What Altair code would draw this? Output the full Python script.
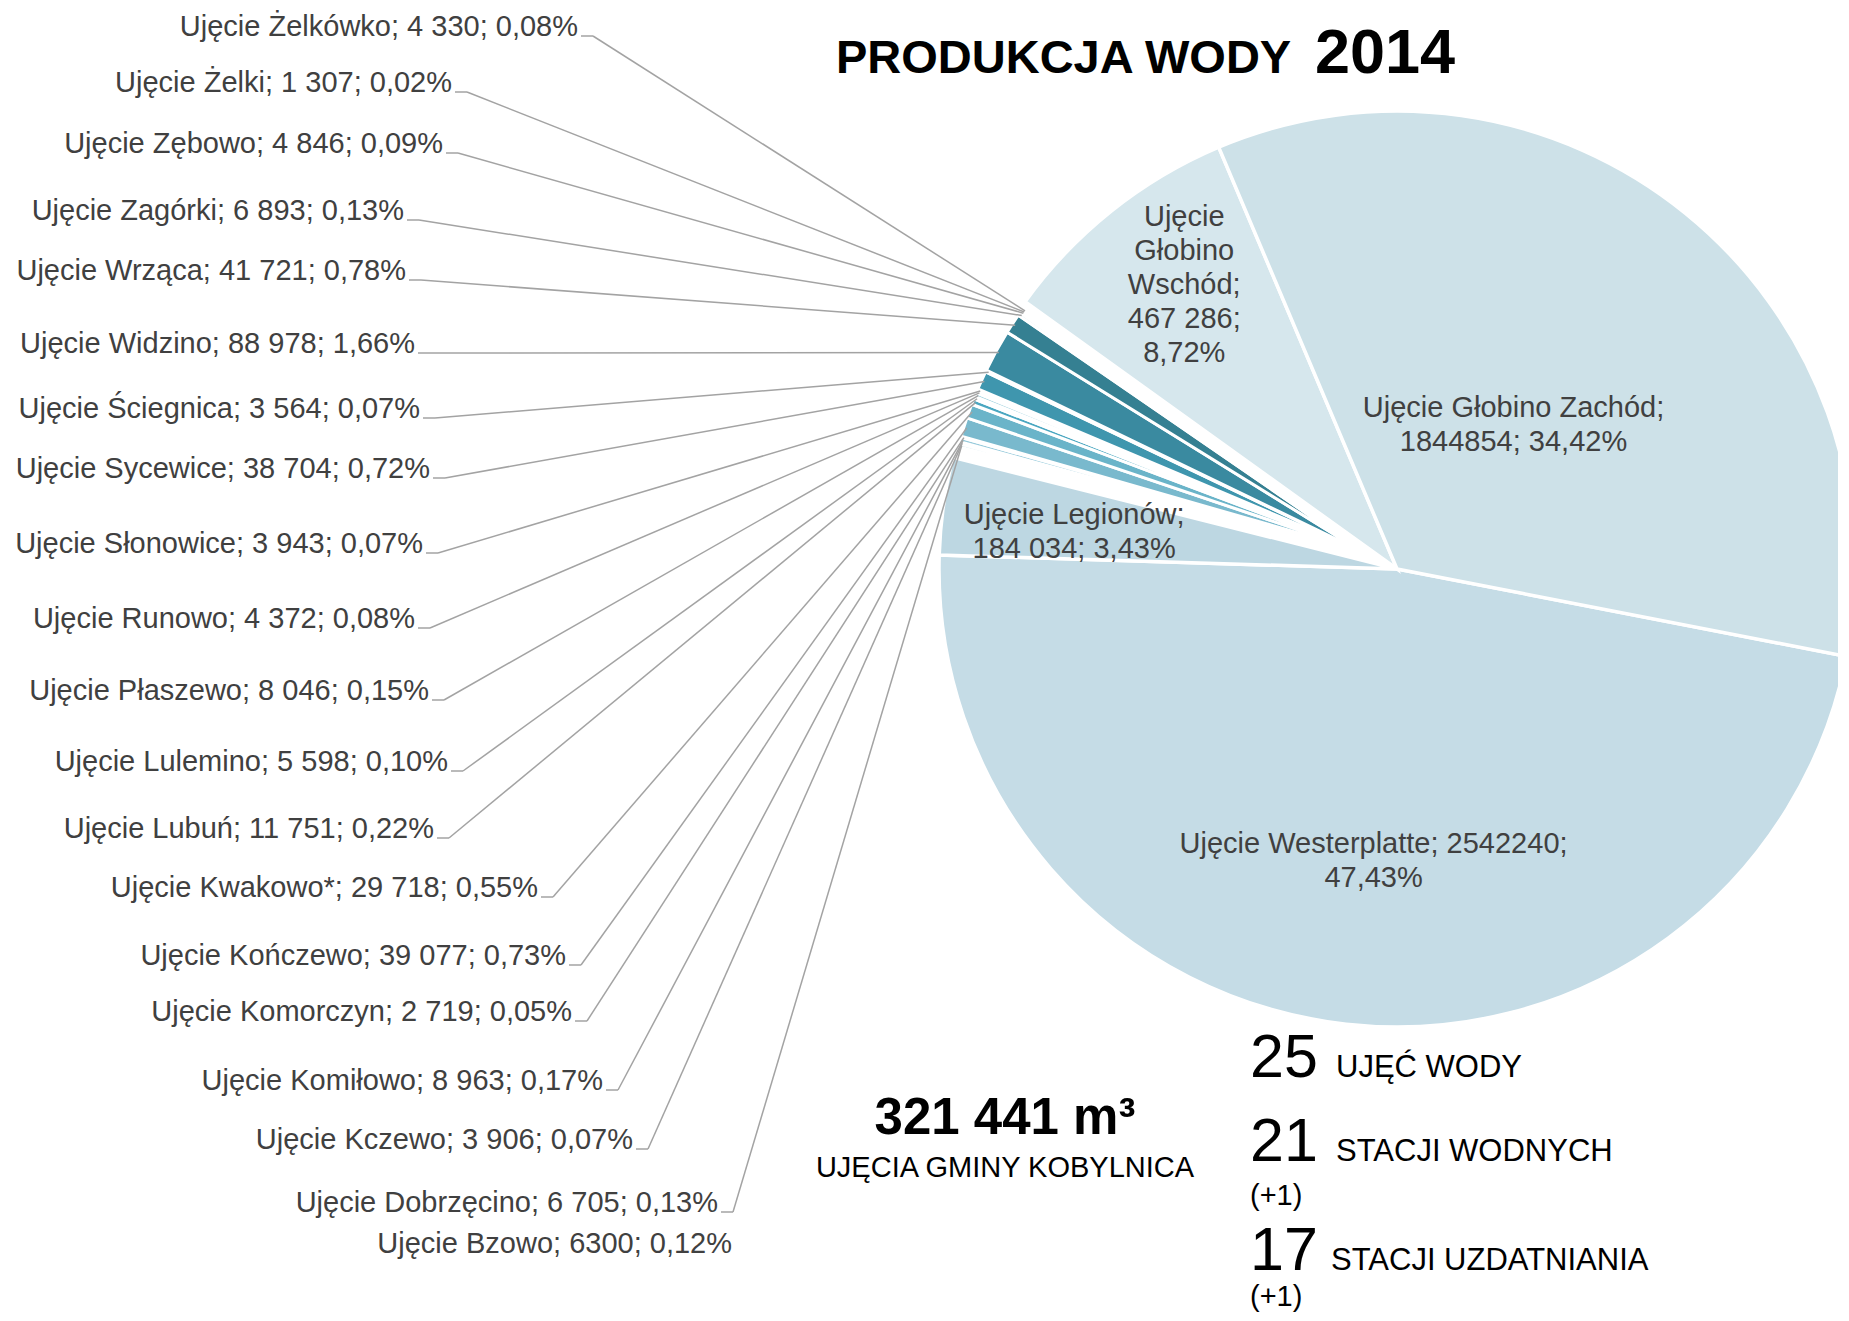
import math
import numpy as np
import pandas as pd
import altair as alt

# ---------------- data (pie order, clockwise from Westerplatte) ----------------
names = [
    "Ujęcie Westerplatte", "Ujęcie Legionów", "Ujęcie Bzowo", "Ujęcie Dobrzęcino",
    "Ujęcie Kczewo", "Ujęcie Komiłowo", "Ujęcie Komorczyn", "Ujęcie Kończewo",
    "Ujęcie Kwakowo*", "Ujęcie Lubuń", "Ujęcie Lulemino", "Ujęcie Płaszewo",
    "Ujęcie Runowo", "Ujęcie Słonowice", "Ujęcie Sycewice", "Ujęcie Ściegnica",
    "Ujęcie Widzino", "Ujęcie Wrząca", "Ujęcie Zagórki", "Ujęcie Zębowo",
    "Ujęcie Żelki", "Ujęcie Żelkówko", "Ujęcie Głobino Wschód", "Ujęcie Głobino Zachód",
]
values = [
    2542240, 184034, 6300, 6705, 3906, 8963, 2719, 39077, 29718, 11751, 5598, 8046,
    4372, 3943, 38704, 3564, 88978, 41721, 6893, 4846, 1307, 4330, 467286, 1844854,
]
value_text = [
    "2542240", "184 034", "6300", "6 705", "3 906", "8 963", "2 719", "39 077",
    "29 718", "11 751", "5 598", "8 046", "4 372", "3 943", "38 704", "3 564",
    "88 978", "41 721", "6 893", "4 846", "1 307", "4 330", "467 286", "1844854",
]
# True = ujęcia gminy Kobylnica (small, exploded slices with outside labels)
kobylnica = [False, False] + [True] * 20 + [False, False]

# ---------------- styles / layout ----------------
colors = [
    "#c5dce6", "#bdd7e2", "#d2e9f0", "#a9d4e0", "#cfe7ee", "#97cadb", "#c9e4ec",
    "#79b9cd", "#6ab4c9", "#4ba7c1", "#b3dbe6", "#9ccfdd", "#bfe0e9", "#d0e8ef",
    "#3f96ae", "#dbeef3", "#3a8aa0", "#358092", "#e2f0f4", "#e6f2f5", "#ebf5f7",
    "#e4f1f4", "#d6e7ed", "#cde1e8",
]
OFF = 8  # page margin
START_DEG = 101.0
CX, CY, R = 1397 - OFF, 569 - OFF, 458
SCX, SCY, SR = 1361 - OFF, 551 - OFF, 416
LINE_H = 34

# inner labels: template, radius, extra dx, extra dy (px)
inner_templates = {
    "Ujęcie Westerplatte": ("{n}; {v};\n{p}", 292, 9, 2),
    "Ujęcie Legionów": ("{n};\n{v}; {p}", 326, 0, 8),
    "Ujęcie Głobino Wschód": ("{nl};\n{v};\n{p}", 357, 10, -5),
    "Ujęcie Głobino Zachód": ("{n};\n{v}; {p}", 185, 0, 0),
}
# outside labels (top to bottom): right end x, centre y (page px)
outer_order = [
    "Ujęcie Żelkówko", "Ujęcie Żelki", "Ujęcie Zębowo", "Ujęcie Zagórki", "Ujęcie Wrząca",
    "Ujęcie Widzino", "Ujęcie Ściegnica", "Ujęcie Sycewice", "Ujęcie Słonowice",
    "Ujęcie Runowo", "Ujęcie Płaszewo", "Ujęcie Lulemino", "Ujęcie Lubuń",
    "Ujęcie Kwakowo*", "Ujęcie Kończewo", "Ujęcie Komorczyn", "Ujęcie Komiłowo",
    "Ujęcie Kczewo", "Ujęcie Dobrzęcino", "Ujęcie Bzowo",
]
outer_right = [578, 452, 443, 404, 406, 415, 420, 430, 423, 415, 429, 448, 434,
               538, 566, 572, 603, 633, 718, 732]
outer_y = [27, 83, 144, 211, 271, 344, 409, 469, 544, 619, 691, 762, 829,
           888, 956, 1012, 1081, 1140, 1203, 1244]
no_leader = {"Ujęcie Bzowo"}

# ---------------- derived tables ----------------
total = sum(values)
pct_text = [f"{v / total * 100:.2f}".replace(".", ",") + "%" for v in values]

inner_text = []
for n, v, p in zip(names, value_text, pct_text):
    if n in inner_templates:
        tpl = inner_templates[n][0]
        inner_text.append(tpl.format(n=n, nl=n.replace(" ", "\n"), v=v, p=p))
    else:
        inner_text.append("")

df = pd.DataFrame({
    "name": names, "value": values, "idx": list(range(len(names))),
    "grp": ["small" if k else "big" for k in kobylnica],
    "inner": inner_text,
})

a0 = math.radians(START_DEG)
vals = np.array(values, dtype=float)
mid_frac = (np.cumsum(vals) - vals / 2) / total
mid_ang = dict(zip(names, a0 + 2 * np.pi * mid_frac))
vt = dict(zip(names, value_text))
pt = dict(zip(names, pct_text))

rows = []
for n, rx, cy in zip(outer_order, outer_right, outer_y):
    a = mid_ang[n]
    rows.append({
        "label": f"{n}; {vt[n]}; {pt[n]}",
        "lx": rx - OFF, "ly": cy - OFF,
        "sx0": rx - OFF + 3, "sx1": rx - OFF + 15, "sy": cy - OFF + 9,
        "ex": SCX + (SR - 3) * math.sin(a), "ey": SCY - (SR - 3) * math.cos(a),
        "lead": n not in no_leader,
    })
odf = pd.DataFrame(rows)

# ---------------- chart ----------------
FONT = "Liberation Sans"
tscale = alt.Scale(domain=[0, total], range=[a0, a0 + 2 * math.pi], nice=False, zero=False)
color = alt.Color("name:N", scale=alt.Scale(domain=names, range=colors), legend=None)

stacked = alt.Chart(df).transform_stack(
    stack="value", groupby=[], as_=["v0", "v1"], sort=[alt.SortField("idx", order="ascending")]
).transform_calculate(vm="(datum.v0 + datum.v1) / 2")

big = stacked.transform_filter("datum.grp == 'big'").mark_arc(
    radius=R, stroke="white", strokeWidth=3.5).encode(
    theta=alt.Theta("v0:Q", scale=tscale, stack=False), theta2="v1:Q", color=color,
    x=alt.value(CX), y=alt.value(CY),
)
small = stacked.transform_filter("datum.grp == 'small'").mark_arc(
    radius=SR, stroke="white", strokeWidth=3).encode(
    theta=alt.Theta("v0:Q", scale=tscale, stack=False), theta2="v1:Q", color=color,
    x=alt.value(SCX), y=alt.value(SCY),
)

inner_layers = []
for n, (tpl, rr, ddx, ddy) in inner_templates.items():
    nlines = tpl.format(n=n, nl=n.replace(" ", "\n"), v="", p="").count("\n") + 1
    inner_layers.append(
        stacked.transform_filter(alt.datum.name == n).mark_text(
            font=FONT, fontSize=29, color="#404040", lineBreak="\n",
            lineHeight=LINE_H, align="center", baseline="middle", radius=rr,
            dx=ddx, dy=ddy - (nlines - 1) * LINE_H / 2,
        ).encode(
            theta=alt.Theta("vm:Q", scale=tscale, stack=False),
            x=alt.value(CX), y=alt.value(CY), text="inner:N",
        )
    )

obase = alt.Chart(odf)
lead_base = obase.transform_filter("datum.lead")
stub = lead_base.mark_rule(color="#a3a3a3", strokeWidth=1.5).encode(
    x=alt.X("sx0:Q", scale=None, axis=None), x2="sx1:Q",
    y=alt.Y("sy:Q", scale=None, axis=None), y2="sy:Q",
)
diag = lead_base.mark_rule(color="#a3a3a3", strokeWidth=1.5).encode(
    x=alt.X("sx1:Q", scale=None, axis=None), x2="ex:Q",
    y=alt.Y("sy:Q", scale=None, axis=None), y2="ey:Q",
)
outer = obase.mark_text(font=FONT, fontSize=29, color="#404040", align="right",
                        baseline="middle").encode(
    x=alt.X("lx:Q", scale=None, axis=None), y=alt.Y("ly:Q", scale=None, axis=None),
    text="label:N",
)

one = alt.Data(values=[{}])


def txt(s, x, y, size, bold=False, align="left"):
    return alt.Chart(one).mark_text(
        font=FONT, fontSize=size, fontWeight="bold" if bold else "normal",
        color="#000000", align=align, baseline="alphabetic",
    ).encode(x=alt.value(x - OFF), y=alt.value(y - OFF), text=alt.value(s))


kob_total = f"{sum(v for v, k in zip(values, kobylnica) if k):,}".replace(",", " ")

texts = [
    txt("PRODUKCJA WODY", 836, 73, 47, bold=True),
    txt("2014", 1315, 73, 63, bold=True),
    txt(f"{kob_total} m³", 1005, 1134, 51, bold=True, align="center"),
    txt("UJĘCIA GMINY KOBYLNICA", 1005, 1177, 29, align="center"),
    txt("25", 1250, 1077, 61),
    txt("UJĘĆ WODY", 1336, 1077, 31),
    txt("21", 1250, 1161, 61),
    txt("STACJI WODNYCH", 1336, 1161, 31),
    txt("(+1)", 1250, 1205, 29),
    txt("17", 1250, 1270, 61),
    txt("STACJI UZDATNIANIA", 1331, 1270, 31),
    txt("(+1)", 1250, 1306, 29),
]

chart = alt.layer(big, small, *inner_layers, stub, diag, outer, *texts).properties(
    width=1830, height=1305,
    autosize=alt.AutoSizeParams(type="none"), padding=0,
).configure_view(stroke=None)

chart.save("out.html", embed_options={"renderer": "svg", "actions": False})
